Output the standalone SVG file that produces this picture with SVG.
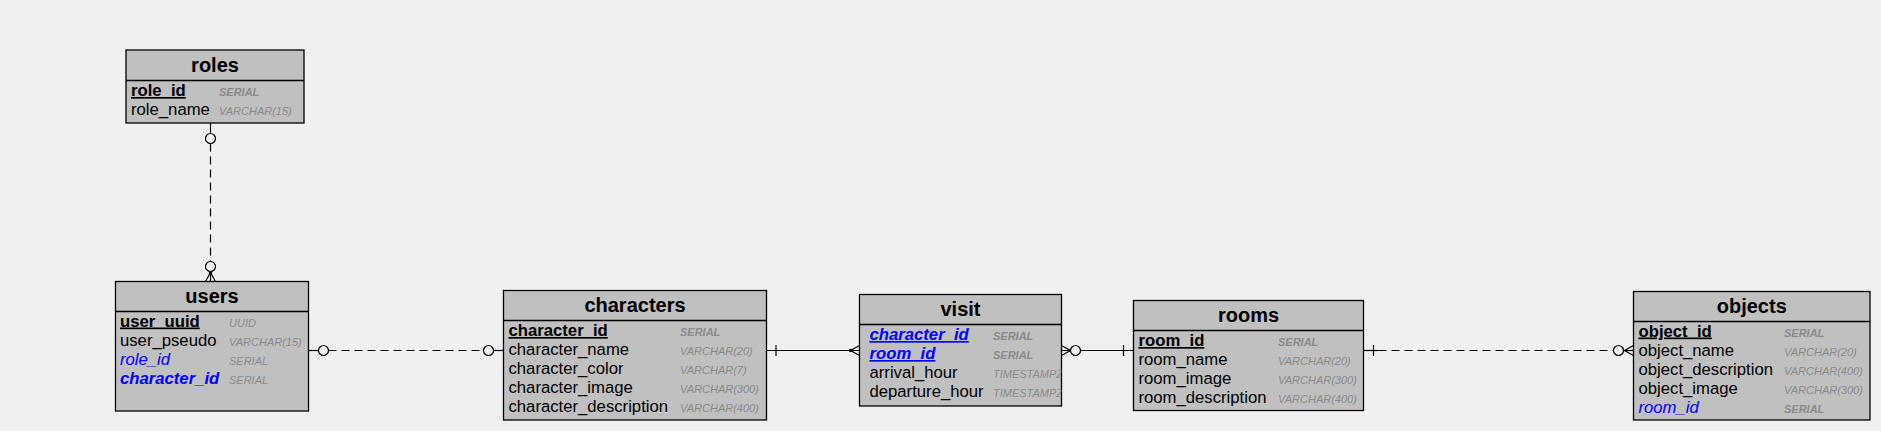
<svg xmlns="http://www.w3.org/2000/svg" width="1881" height="431" viewBox="0 0 1881 431">
<style>
.box{fill:#c0c0c0;stroke:#000;stroke-width:1.3}
.div{stroke:#000;stroke-width:1.3}
.title{font-family:"Liberation Sans",Arial,sans-serif;font-size:20px;font-weight:bold;fill:#000;text-anchor:middle}
.col{font-family:"Liberation Sans",Arial,sans-serif;font-size:16.7px;fill:#000}
.pk{font-weight:bold;text-decoration:underline}
.fk{fill:#0000ff;font-style:italic}
.fkb{fill:#0000ff;font-style:italic;font-weight:bold}
.type{font-family:"Liberation Sans",Arial,sans-serif;font-size:11px;font-style:italic;fill:#8a8a8a}
.tb{font-weight:bold}
.ln{stroke:#000;stroke-width:1.2;fill:none}
.dash{stroke:#000;stroke-width:1.2;fill:none;stroke-dasharray:8 5}
.circ{stroke:#000;stroke-width:1.2;fill:#f0f0f0}
</style>
<defs>
<clipPath id="visitClip"><rect x="859.5" y="294.5" width="202" height="111.5"/></clipPath>
</defs>
<rect x="0" y="0" width="1881" height="431" fill="#f0f0f0"/>

<g id="connectors">
  <!-- roles - users -->
  <line class="ln" x1="210.5" y1="123" x2="210.5" y2="133.5"/>
  <circle class="circ" cx="210.5" cy="138.5" r="5"/>
  <line class="dash" x1="210.5" y1="143.5" x2="210.5" y2="261.5"/>
  <circle class="circ" cx="210.5" cy="266.5" r="5"/>
  <line class="ln" x1="210.5" y1="271.5" x2="210.5" y2="281.5"/>
  <path class="ln" d="M205.5,281.5 L210.5,272.5 L215.5,281.5"/>
  <circle cx="210.5" cy="273" r="1.8" fill="#000"/>

  <!-- users - characters -->
  <line class="ln" x1="308.5" y1="350.5" x2="318.5" y2="350.5"/>
  <circle class="circ" cx="323.5" cy="350.5" r="5"/>
  <line class="dash" x1="328.5" y1="350.5" x2="483.5" y2="350.5"/>
  <circle class="circ" cx="488.5" cy="350.5" r="5"/>
  <line class="ln" x1="493.5" y1="350.5" x2="503.5" y2="350.5"/>

  <!-- characters - visit -->
  <line class="ln" x1="766.5" y1="350.5" x2="859.5" y2="350.5"/>
  <line class="ln" x1="776" y1="345" x2="776" y2="356"/>
  <path class="ln" d="M859.5,345.5 L850.5,350.5 L859.5,355.5"/>
  <circle cx="850.5" cy="350.5" r="1.8" fill="#000"/>

  <!-- visit - rooms -->
  <line class="ln" x1="1061.5" y1="350.5" x2="1070.5" y2="350.5"/>
  <path class="ln" d="M1061.5,345.5 L1070.5,350.5 L1061.5,355.5"/>
  <circle class="circ" cx="1075.5" cy="350.5" r="5"/>
  <line class="ln" x1="1080.5" y1="350.5" x2="1133.5" y2="350.5"/>
  <line class="ln" x1="1123.5" y1="345" x2="1123.5" y2="356"/>

  <!-- rooms - objects -->
  <line class="ln" x1="1363.5" y1="350.5" x2="1378.5" y2="350.5"/>
  <line class="ln" x1="1373.5" y1="345" x2="1373.5" y2="356"/>
  <line class="dash" x1="1378.5" y1="350.5" x2="1613.5" y2="350.5"/>
  <circle class="circ" cx="1618.5" cy="350.5" r="5"/>
  <line class="ln" x1="1623.5" y1="350.5" x2="1633.5" y2="350.5"/>
  <path class="ln" d="M1633.5,345.5 L1624.5,350.5 L1633.5,355.5"/>
</g>

<g id="roles">
  <rect class="box" x="126" y="50" width="178" height="73"/>
  <line class="div" x1="126" y1="80.5" x2="304" y2="80.5"/>
  <text class="title" x="215" y="72">roles</text>
  <text class="col pk" x="131" y="96">role_id</text>
  <text class="type tb" x="219" y="96">SERIAL</text>
  <text class="col" x="131" y="115">role_name</text>
  <text class="type" x="219" y="115">VARCHAR(15)</text>
</g>

<g id="users">
  <rect class="box" x="115.5" y="281.5" width="193" height="129.5"/>
  <line class="div" x1="115.5" y1="311.5" x2="308.5" y2="311.5"/>
  <text class="title" x="212" y="302.5">users</text>
  <text class="col pk" x="120" y="326.5">user_uuid</text>
  <text class="type" x="229" y="326.5">UUID</text>
  <text class="col" x="120" y="345.5">user_pseudo</text>
  <text class="type" x="229" y="345.5">VARCHAR(15)</text>
  <text class="col fk" x="120" y="364.5">role_id</text>
  <text class="type" x="229" y="364.5">SERIAL</text>
  <text class="col fkb" x="120" y="383.5">character_id</text>
  <text class="type" x="229" y="383.5">SERIAL</text>
</g>

<g id="characters">
  <rect class="box" x="503.5" y="290.5" width="263" height="129.5"/>
  <line class="div" x1="503.5" y1="320.5" x2="766.5" y2="320.5"/>
  <text class="title" x="635" y="311.5">characters</text>
  <text class="col pk" x="508.5" y="336">character_id</text>
  <text class="type tb" x="680" y="336">SERIAL</text>
  <text class="col" x="508.5" y="355">character_name</text>
  <text class="type" x="680" y="355">VARCHAR(20)</text>
  <text class="col" x="508.5" y="374">character_color</text>
  <text class="type" x="680" y="374">VARCHAR(7)</text>
  <text class="col" x="508.5" y="393">character_image</text>
  <text class="type" x="680" y="393">VARCHAR(300)</text>
  <text class="col" x="508.5" y="412">character_description</text>
  <text class="type" x="680" y="412">VARCHAR(400)</text>
</g>

<g id="visit">
  <rect class="box" x="859.5" y="294.5" width="202" height="111.5"/>
  <line class="div" x1="859.5" y1="324.5" x2="1061.5" y2="324.5"/>
  <text class="title" x="960.5" y="315.5">visit</text>
  <g clip-path="url(#visitClip)">
  <text class="col fkb" x="869.5" y="340" text-decoration="underline">character_id</text>
  <text class="type tb" x="993" y="340">SERIAL</text>
  <text class="col fkb" x="869.5" y="359" text-decoration="underline">room_id</text>
  <text class="type tb" x="993" y="359">SERIAL</text>
  <text class="col" x="869.5" y="378">arrival_hour</text>
  <text class="type" x="993" y="378">TIMESTAMPZ</text>
  <text class="col" x="869.5" y="397">departure_hour</text>
  <text class="type" x="993" y="397">TIMESTAMPZ</text>
  </g>
</g>

<g id="rooms">
  <rect class="box" x="1133.5" y="300.5" width="230" height="110"/>
  <line class="div" x1="1133.5" y1="330.5" x2="1363.5" y2="330.5"/>
  <text class="title" x="1248.5" y="321.5">rooms</text>
  <text class="col pk" x="1138.5" y="346">room_id</text>
  <text class="type tb" x="1278" y="346">SERIAL</text>
  <text class="col" x="1138.5" y="365">room_name</text>
  <text class="type" x="1278" y="365">VARCHAR(20)</text>
  <text class="col" x="1138.5" y="384">room_image</text>
  <text class="type" x="1278" y="384">VARCHAR(300)</text>
  <text class="col" x="1138.5" y="403">room_description</text>
  <text class="type" x="1278" y="403">VARCHAR(400)</text>
</g>

<g id="objects">
  <rect class="box" x="1633.5" y="291.5" width="236.5" height="128.5"/>
  <line class="div" x1="1633.5" y1="321.5" x2="1870" y2="321.5"/>
  <text class="title" x="1751.75" y="312.5">objects</text>
  <text class="col pk" x="1638.5" y="336.5">object_id</text>
  <text class="type tb" x="1784" y="336.5">SERIAL</text>
  <text class="col" x="1638.5" y="355.5">object_name</text>
  <text class="type" x="1784" y="355.5">VARCHAR(20)</text>
  <text class="col" x="1638.5" y="374.5">object_description</text>
  <text class="type" x="1784" y="374.5">VARCHAR(400)</text>
  <text class="col" x="1638.5" y="393.5">object_image</text>
  <text class="type" x="1784" y="393.5">VARCHAR(300)</text>
  <text class="col fk" x="1638.5" y="412.5">room_id</text>
  <text class="type tb" x="1784" y="412.5">SERIAL</text>
</g>
</svg>
